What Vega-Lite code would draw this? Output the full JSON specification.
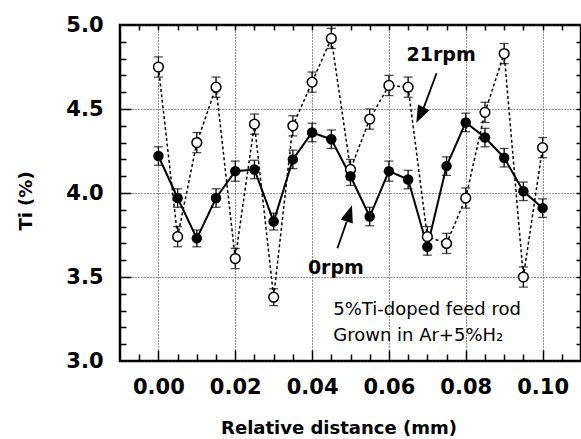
{
  "$schema": "https://vega.github.io/schema/vega-lite/v6.json",
  "width": 461,
  "height": 336,
  "autosize": {"type": "none"},
  "padding": {"left": 120, "top": 25, "right": 0, "bottom": 78},
  "background": "white",
  "config": {
    "view": {"stroke": "black", "strokeWidth": 2.5},
    "axis": {"domain": false, "tickColor": "black", "tickWidth": 1.5, "labelColor": "black", "titleColor": "black"}
  },
  "datasets": {
    "rpm0": [
      {"x": 0.000, "y": 4.22, "lo": 4.165, "hi": 4.275},
      {"x": 0.005, "y": 3.97, "lo": 3.915, "hi": 4.025},
      {"x": 0.010, "y": 3.73, "lo": 3.68, "hi": 3.78},
      {"x": 0.015, "y": 3.97, "lo": 3.915, "hi": 4.025},
      {"x": 0.020, "y": 4.13, "lo": 4.07, "hi": 4.19},
      {"x": 0.025, "y": 4.14, "lo": 4.085, "hi": 4.195},
      {"x": 0.030, "y": 3.83, "lo": 3.78, "hi": 3.88},
      {"x": 0.035, "y": 4.20, "lo": 4.145, "hi": 4.255},
      {"x": 0.040, "y": 4.36, "lo": 4.305, "hi": 4.415},
      {"x": 0.045, "y": 4.32, "lo": 4.265, "hi": 4.375},
      {"x": 0.050, "y": 4.10, "lo": 4.045, "hi": 4.155},
      {"x": 0.055, "y": 3.86, "lo": 3.805, "hi": 3.915},
      {"x": 0.060, "y": 4.13, "lo": 4.07, "hi": 4.19},
      {"x": 0.065, "y": 4.08, "lo": 4.025, "hi": 4.135},
      {"x": 0.070, "y": 3.68, "lo": 3.63, "hi": 3.73},
      {"x": 0.075, "y": 4.16, "lo": 4.105, "hi": 4.215},
      {"x": 0.080, "y": 4.42, "lo": 4.365, "hi": 4.475},
      {"x": 0.085, "y": 4.33, "lo": 4.275, "hi": 4.385},
      {"x": 0.090, "y": 4.21, "lo": 4.155, "hi": 4.265},
      {"x": 0.095, "y": 4.01, "lo": 3.955, "hi": 4.065},
      {"x": 0.100, "y": 3.91, "lo": 3.855, "hi": 3.965}
    ],
    "rpm21": [
      {"x": 0.000, "y": 4.75, "lo": 4.69, "hi": 4.81},
      {"x": 0.005, "y": 3.74, "lo": 3.68, "hi": 3.80},
      {"x": 0.010, "y": 4.30, "lo": 4.24, "hi": 4.36},
      {"x": 0.015, "y": 4.63, "lo": 4.57, "hi": 4.69},
      {"x": 0.020, "y": 3.61, "lo": 3.55, "hi": 3.67},
      {"x": 0.025, "y": 4.41, "lo": 4.35, "hi": 4.47},
      {"x": 0.030, "y": 3.38, "lo": 3.33, "hi": 3.43},
      {"x": 0.035, "y": 4.40, "lo": 4.34, "hi": 4.46},
      {"x": 0.040, "y": 4.66, "lo": 4.60, "hi": 4.72},
      {"x": 0.045, "y": 4.92, "lo": 4.86, "hi": 4.98},
      {"x": 0.050, "y": 4.14, "lo": 4.08, "hi": 4.20},
      {"x": 0.055, "y": 4.44, "lo": 4.38, "hi": 4.50},
      {"x": 0.060, "y": 4.64, "lo": 4.58, "hi": 4.70},
      {"x": 0.065, "y": 4.63, "lo": 4.57, "hi": 4.69},
      {"x": 0.070, "y": 3.74, "lo": 3.68, "hi": 3.80},
      {"x": 0.075, "y": 3.70, "lo": 3.64, "hi": 3.76},
      {"x": 0.080, "y": 3.97, "lo": 3.91, "hi": 4.03},
      {"x": 0.085, "y": 4.48, "lo": 4.42, "hi": 4.54},
      {"x": 0.090, "y": 4.83, "lo": 4.77, "hi": 4.89},
      {"x": 0.095, "y": 3.50, "lo": 3.44, "hi": 3.56},
      {"x": 0.100, "y": 4.27, "lo": 4.21, "hi": 4.33}
    ],
    "labels": [
      {"x": 0.0736, "y": 4.821, "text": "21rpm"},
      {"x": 0.0462, "y": 3.554, "text": "0rpm"}
    ],
    "note": [
      {"x": 0.0455, "y": 3.274, "text": "5%Ti-doped feed rod"},
      {"x": 0.0455, "y": 3.119, "text": "Grown in Ar+5%H₂"}
    ],
    "arrow21": [
      {"x": 0.0724, "y": 4.7125, "x2": 0.0690, "y2": 4.504, "hx": 0.0681, "hy": 4.464}
    ],
    "arrow0": [
      {"x": 0.0466, "y": 3.671, "x2": 0.0490, "y2": 3.829, "hx": 0.0497, "hy": 3.879}
    ]
  },
  "resolve": {"axis": {"x": "independent", "y": "independent"}},
  "layer": [
    {
      "data": {"name": "rpm21"},
      "mark": {"type": "line", "color": "black", "strokeWidth": 1.5, "strokeDash": [3, 2.5]},
      "encoding": {
        "x": {"field": "x", "type": "quantitative", "scale": {"domain": [-0.01, 0.11], "nice": false, "zero": false},
          "axis": {"orient": "bottom", "values": [0, 0.02, 0.04, 0.06, 0.08, 0.1], "format": ".2f", "ticks": false, "grid": true,
            "gridColor": "#222", "gridDash": [1, 2], "gridWidth": 1, "labelFont": "DejaVu Sans", "labelFontWeight": "bold", "labelFontSize": 21,
            "labelPadding": 15, "labelFlush": false, "title": "Relative distance (mm)", "titleFont": "DejaVu Sans", "titleFontWeight": "bold",
            "titleFontSize": 18, "titleX": 218.5, "titleY": 72, "titleBaseline": "alphabetic", "titleAlign": "center"}},
        "y": {"field": "y", "type": "quantitative", "scale": {"domain": [3, 5], "nice": false, "zero": false},
          "axis": {"orient": "left", "values": [3, 3.5, 4, 4.5, 5], "format": ".1f", "ticks": false, "grid": true,
            "gridColor": "#222", "gridDash": [1, 2], "gridWidth": 1, "labelFont": "DejaVu Sans", "labelFontWeight": "bold", "labelFontSize": 21,
            "labelPadding": 17, "labelFlush": false, "title": "Ti (%)", "titleFont": "DejaVu Sans", "titleFontWeight": "bold",
            "titleFontSize": 18, "titleX": -94, "titleY": 175.5, "titleAngle": -90, "titleBaseline": "middle", "titleAlign": "center"}}
      }
    },
    {
      "data": {"name": "rpm0"},
      "mark": {"type": "line", "color": "black", "strokeWidth": 2},
      "encoding": {
        "x": {"field": "x", "type": "quantitative", "scale": {"domain": [-0.01, 0.11], "nice": false, "zero": false},
          "axis": {"orient": "bottom", "values": [0, 0.02, 0.04, 0.06, 0.08, 0.1], "tickSize": -11, "labels": false, "grid": false, "title": null}},
        "y": {"field": "y", "type": "quantitative", "scale": {"domain": [3, 5], "nice": false, "zero": false},
          "axis": {"orient": "left", "values": [3.5, 4, 4.5], "tickSize": -11, "labels": false, "grid": false, "title": null}}
      }
    },
    {
      "data": {"name": "rpm21"},
      "mark": {"type": "errorbar", "ticks": {"size": 9}, "color": "black", "thickness": 1.3},
      "encoding": {
        "x": {"field": "x", "type": "quantitative", "scale": {"domain": [-0.01, 0.11], "nice": false, "zero": false}, "axis": null},
        "y": {"field": "lo", "type": "quantitative", "scale": {"domain": [3, 5], "nice": false, "zero": false}, "axis": null},
        "y2": {"field": "hi"}
      }
    },
    {
      "data": {"name": "rpm0"},
      "mark": {"type": "errorbar", "ticks": {"size": 9}, "color": "black", "thickness": 1.3},
      "encoding": {
        "x": {"field": "x", "type": "quantitative", "scale": {"domain": [-0.01, 0.11], "nice": false, "zero": false}, "axis": null},
        "y": {"field": "lo", "type": "quantitative", "scale": {"domain": [3, 5], "nice": false, "zero": false}, "axis": null},
        "y2": {"field": "hi"}
      }
    },
    {
      "data": {"name": "rpm21"},
      "mark": {"type": "point", "shape": "circle", "filled": true, "fill": "white", "stroke": "black", "strokeWidth": 1.5, "size": 95, "opacity": 1},
      "encoding": {
        "x": {"field": "x", "type": "quantitative", "scale": {"domain": [-0.01, 0.11], "nice": false, "zero": false},
          "axis": {"orient": "bottom", "values": [-0.005, 0.005, 0.01, 0.015, 0.025, 0.03, 0.035, 0.045, 0.05, 0.055, 0.065, 0.07, 0.075, 0.085, 0.09, 0.095, 0.105], "tickSize": -7, "labels": false, "grid": false, "title": null}},
        "y": {"field": "y", "type": "quantitative", "scale": {"domain": [3, 5], "nice": false, "zero": false},
          "axis": {"orient": "left", "values": [3.1, 3.2, 3.3, 3.4, 3.6, 3.7, 3.8, 3.9, 4.1, 4.2, 4.3, 4.4, 4.6, 4.7, 4.8, 4.9], "tickSize": -6, "labels": false, "grid": false, "title": null}}
      }
    },
    {
      "data": {"name": "rpm0"},
      "mark": {"type": "point", "shape": "circle", "filled": true, "color": "black", "size": 110, "opacity": 1},
      "encoding": {
        "x": {"field": "x", "type": "quantitative", "scale": {"domain": [-0.01, 0.11], "nice": false, "zero": false},
          "axis": {"orient": "top", "values": [-0.005, 0, 0.005, 0.01, 0.015, 0.02, 0.025, 0.03, 0.035, 0.04, 0.045, 0.05, 0.055, 0.06, 0.065, 0.07, 0.075, 0.08, 0.085, 0.09, 0.095, 0.1, 0.105], "tickSize": -5, "labels": false, "grid": false, "title": null}},
        "y": {"field": "y", "type": "quantitative", "scale": {"domain": [3, 5], "nice": false, "zero": false},
          "axis": {"orient": "right", "values": [3.1, 3.2, 3.3, 3.4, 3.5, 3.6, 3.7, 3.8, 3.9, 4.0, 4.1, 4.2, 4.3, 4.4, 4.5, 4.6, 4.7, 4.8, 4.9], "tickSize": -5, "labels": false, "grid": false, "title": null}}
      }
    },
    {
      "data": {"name": "labels"},
      "mark": {"type": "text", "font": "DejaVu Sans", "fontWeight": "bold", "fontSize": 19, "align": "center", "baseline": "middle", "color": "black"},
      "encoding": {
        "x": {"field": "x", "type": "quantitative", "scale": {"domain": [-0.01, 0.11], "nice": false, "zero": false}, "axis": null},
        "y": {"field": "y", "type": "quantitative", "scale": {"domain": [3, 5], "nice": false, "zero": false}, "axis": null},
        "text": {"field": "text"}
      }
    },
    {
      "data": {"name": "note"},
      "mark": {"type": "text", "font": "DejaVu Sans", "fontSize": 18, "align": "left", "baseline": "alphabetic", "color": "black"},
      "encoding": {
        "x": {"field": "x", "type": "quantitative", "scale": {"domain": [-0.01, 0.11], "nice": false, "zero": false}, "axis": null},
        "y": {"field": "y", "type": "quantitative", "scale": {"domain": [3, 5], "nice": false, "zero": false}, "axis": null},
        "text": {"field": "text"}
      }
    },
    {
      "data": {"name": "arrow21"},
      "mark": {"type": "rule", "color": "black", "strokeWidth": 1.8},
      "encoding": {
        "x": {"field": "x", "type": "quantitative", "scale": {"domain": [-0.01, 0.11], "nice": false, "zero": false}, "axis": null},
        "y": {"field": "y", "type": "quantitative", "scale": {"domain": [3, 5], "nice": false, "zero": false}, "axis": null},
        "x2": {"field": "x2"},
        "y2": {"field": "y2"}
      }
    },
    {
      "data": {"name": "arrow0"},
      "mark": {"type": "rule", "color": "black", "strokeWidth": 1.8},
      "encoding": {
        "x": {"field": "x", "type": "quantitative", "scale": {"domain": [-0.01, 0.11], "nice": false, "zero": false}, "axis": null},
        "y": {"field": "y", "type": "quantitative", "scale": {"domain": [3, 5], "nice": false, "zero": false}, "axis": null},
        "x2": {"field": "x2"},
        "y2": {"field": "y2"}
      }
    },
    {
      "data": {"name": "arrow21"},
      "mark": {"type": "point", "shape": "M0,-1L-0.75,1L0.75,1Z", "filled": true, "color": "black", "size": 289, "angle": 206, "opacity": 1},
      "encoding": {
        "x": {"field": "hx", "type": "quantitative", "scale": {"domain": [-0.01, 0.11], "nice": false, "zero": false}, "axis": null},
        "y": {"field": "hy", "type": "quantitative", "scale": {"domain": [3, 5], "nice": false, "zero": false}, "axis": null}
      }
    },
    {
      "data": {"name": "arrow0"},
      "mark": {"type": "point", "shape": "M0,-1L-0.75,1L0.75,1Z", "filled": true, "color": "black", "size": 289, "angle": 18, "opacity": 1},
      "encoding": {
        "x": {"field": "hx", "type": "quantitative", "scale": {"domain": [-0.01, 0.11], "nice": false, "zero": false}, "axis": null},
        "y": {"field": "hy", "type": "quantitative", "scale": {"domain": [3, 5], "nice": false, "zero": false}, "axis": null}
      }
    }
  ]
}
